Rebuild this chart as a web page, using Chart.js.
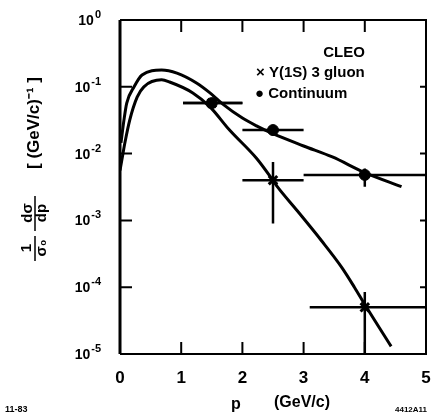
<!DOCTYPE html>
<html>
<head>
<meta charset="utf-8">
<script src="https://cdn.jsdelivr.net/npm/chart.js@4.4.1/dist/chart.umd.min.js"></script>
<style>
  html, body { margin: 0; padding: 0; background: #fff; }
  #wrap { width: 435px; height: 417px; }
</style>
</head>
<body>
<div id="wrap"><canvas id="chart"></canvas></div>
<script>
// axis ticks
const xTicks = [0, 1, 2, 3, 4, 5];
const yTickExps = [0, -1, -2, -3, -4, -5];

// continuum data points (p in GeV/c)
const contP = [1.5, 2.5, 4.0];
const contVal = [0.057, 0.0225, 0.0048];
const contPLo = [1.03, 2.0, 3.0];
const contPHi = [2.0, 3.0, 5.0];
const contValLo = [0.057, 0.0225, 0.0032];
const contValHi = [0.057, 0.0225, 0.006];

// upsilon(1S) 3 gluon data points
const gluonP = [1.5, 2.5, 4.0];
const gluonVal = [0.057, 0.0040, 0.00005];
const gluonPLo = [1.03, 2.0, 3.1];
const gluonPHi = [2.0, 3.0, 5.0];
const gluonValLo = [0.057, 0.0009, 0.00001];
const gluonValHi = [0.057, 0.0075, 0.000085];

// model curves
const contCurveP = [0.016, 0.065, 0.11, 0.23, 0.36, 0.68, 0.93, 1.25, 1.47, 1.68, 2.0, 2.23, 2.49, 3.0, 3.47, 4.0, 4.6];
const contCurveVal = [0.0145, 0.032, 0.057, 0.10, 0.15, 0.178, 0.16, 0.114, 0.081, 0.055, 0.034, 0.026, 0.020, 0.013, 0.0089, 0.0052, 0.0032];
const gluonCurveP = [0.0, 0.03, 0.08, 0.16, 0.28, 0.39, 0.68, 0.81, 1.19, 1.47, 1.79, 2.23, 2.48, 2.57, 2.9, 3.29, 3.62, 3.83, 4.0, 4.43];
const gluonCurveVal = [0.0056, 0.008, 0.0145, 0.032, 0.07, 0.10, 0.127, 0.118, 0.081, 0.050, 0.0225, 0.0085, 0.0042, 0.0032, 0.00138, 0.00050, 0.00020, 0.0001, 0.000055, 0.000013];

const FONT = "'Liberation Sans', Arial, sans-serif";

function toXY(xs, ys) {
  return xs.map((x, i) => ({ x: x, y: ys[i] }));
}

const decorPlugin = {
  id: 'decor',
  afterDatasetsDraw(chart) {
    const ctx = chart.ctx;
    const xs = chart.scales.x;
    const ys = chart.scales.y;
    const a = chart.chartArea;

    ctx.save();
    ctx.strokeStyle = '#000';
    ctx.fillStyle = '#000';
    ctx.lineCap = 'butt';

    // error bars
    ctx.lineWidth = 2.5;
    function bars(P, V, PLo, PHi, VLo, VHi) {
      for (let i = 0; i < P.length; i++) {
        const px = xs.getPixelForValue(P[i]);
        const py = ys.getPixelForValue(V[i]);
        ctx.beginPath();
        ctx.moveTo(xs.getPixelForValue(PLo[i]), py);
        ctx.lineTo(xs.getPixelForValue(PHi[i]), py);
        if (VLo[i] !== VHi[i]) {
          ctx.moveTo(px, ys.getPixelForValue(VLo[i]));
          ctx.lineTo(px, ys.getPixelForValue(VHi[i]));
        }
        ctx.stroke();
      }
    }
    bars(contP, contVal, contPLo, contPHi, contValLo, contValHi);
    bars(gluonP, gluonVal, gluonPLo, gluonPHi, gluonValLo, gluonValHi);

    // frame
    ctx.lineWidth = 2;
    ctx.beginPath();
    ctx.moveTo(a.left, a.top);
    ctx.lineTo(a.right, a.top);
    ctx.lineTo(a.right, a.bottom);
    ctx.lineTo(a.left, a.bottom);
    ctx.stroke();
    ctx.lineWidth = 3;
    ctx.beginPath();
    ctx.moveTo(a.left, a.top);
    ctx.lineTo(a.left, a.bottom);
    ctx.stroke();

    // inward ticks
    ctx.lineWidth = 2;
    ctx.beginPath();
    xTicks.forEach(v => {
      if (v === 0 || v === 5) return;
      const px = xs.getPixelForValue(v);
      ctx.moveTo(px, a.bottom); ctx.lineTo(px, a.bottom - 12);
      ctx.moveTo(px, a.top); ctx.lineTo(px, a.top + 12);
    });
    yTickExps.forEach(e => {
      if (e === 0 || e === -5) return;
      const py = ys.getPixelForValue(Math.pow(10, e));
      ctx.moveTo(a.left, py); ctx.lineTo(a.left + 12, py);
      ctx.moveTo(a.right, py); ctx.lineTo(a.right - 6, py);
    });
    ctx.stroke();

    // y tick labels 10^n
    yTickExps.forEach(e => {
      const py = ys.getPixelForValue(Math.pow(10, e));
      const exp = e === 0 ? '0' : '-' + Math.abs(e);
      ctx.font = 'bold 11px ' + FONT;
      const ew = ctx.measureText(exp).width;
      ctx.textAlign = 'left';
      ctx.textBaseline = 'alphabetic';
      ctx.fillText(exp, a.left - 19 - ew, py - 2);
      ctx.font = 'bold 14px ' + FONT;
      ctx.textAlign = 'right';
      ctx.fillText('10', a.left - 20 - ew, py + 5);
    });

    // x axis title
    ctx.font = 'bold 16px ' + FONT;
    ctx.textAlign = 'center';
    ctx.textBaseline = 'middle';
    ctx.fillText('p', 236, 405);
    ctx.fillText('(GeV/c)', 302, 403);

    // corner labels
    ctx.font = 'bold 9px ' + FONT;
    ctx.textAlign = 'left';
    ctx.fillText('11-83', 5, 410);
    ctx.font = 'bold 8px ' + FONT;
    ctx.fillText('4412A11', 395, 410);

    // legend
    ctx.font = 'bold 15px ' + FONT;
    ctx.textAlign = 'center';
    ctx.fillText('CLEO', 344, 53);
    ctx.textAlign = 'left';
    ctx.fillText('\u00d7 \u03a5(1S) 3 gluon', 256, 73);
    ctx.fillText('\u25cf Continuum', 255, 94);

    // y axis title (rotated)
    ctx.translate(35, 0);
    ctx.rotate(-Math.PI / 2);
    ctx.textAlign = 'center';
    ctx.textBaseline = 'middle';
    ctx.font = 'bold 17px ' + FONT;
    ctx.fillText('[ (GeV/c)\u207b\u00b9 ]', -123, -1);
    ctx.font = 'bold 15px ' + FONT;
    ctx.fillText('d\u03c3', -213, -7);
    ctx.fillText('dp', -213, 7);
    ctx.fillText('1', -248, -8);
    ctx.fillText('\u03c3\u2080', -248, 7);
    ctx.lineWidth = 1.5;
    ctx.beginPath();
    ctx.moveTo(-231, 0); ctx.lineTo(-196, 0);
    ctx.moveTo(-261, 0); ctx.lineTo(-236, 0);
    ctx.stroke();

    ctx.restore();
  }
};

new Chart(document.getElementById('chart'), {
  type: 'scatter',
  data: {
    datasets: [
      {
        data: toXY(contCurveP, contCurveVal),
        showLine: true,
        borderColor: '#000',
        borderWidth: 3,
        pointRadius: 0,
        cubicInterpolationMode: 'monotone'
      },
      {
        data: toXY(gluonCurveP, gluonCurveVal),
        showLine: true,
        borderColor: '#000',
        borderWidth: 3,
        pointRadius: 0,
        cubicInterpolationMode: 'monotone'
      },
      {
        data: toXY(contP, contVal),
        pointStyle: 'circle',
        pointRadius: 5.5,
        backgroundColor: '#000',
        borderColor: '#000'
      },
      {
        data: toXY(gluonP, gluonVal),
        pointStyle: 'crossRot',
        pointRadius: 6,
        borderWidth: 3,
        borderColor: '#000'
      }
    ]
  },
  options: {
    responsive: true,
    maintainAspectRatio: false,
    animation: false,
    layout: { padding: { top: 20, right: 8, bottom: 0, left: 0 } },
    plugins: { legend: { display: false }, tooltip: { enabled: false } },
    scales: {
      x: {
        type: 'linear',
        min: 0,
        max: 5,
        afterBuildTicks: s => { s.ticks = xTicks.map(v => ({ value: v })); },
        ticks: { color: '#000', padding: 3, font: { family: FONT, size: 17, weight: 'bold' } },
        grid: { display: true, drawOnChartArea: false, drawTicks: true, tickLength: 11, tickColor: 'rgba(0,0,0,0)' },
        border: { display: false },
        afterFit: s => { s.height = 63; }
      },
      y: {
        type: 'logarithmic',
        min: 1e-5,
        max: 1,
        ticks: { display: false },
        grid: { display: false },
        border: { display: false },
        afterFit: s => { s.width = 120; }
      }
    }
  },
  plugins: [decorPlugin]
});
</script>
</body>
</html>
